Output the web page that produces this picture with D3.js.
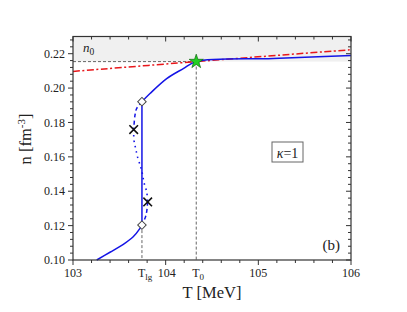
<!DOCTYPE html>
<html>
<head>
<meta charset="utf-8">
<script src="https://cdn.jsdelivr.net/npm/d3@7"></script>
<style>
body { margin: 0; background: #fff; }
text { font-family: "Liberation Serif", "DejaVu Serif", serif; fill: #222; }
</style>
</head>
<body>
<div id="main"></div>
<script>
// values
var n0 = 0.2154, T0 = 104.33, Tlg = 103.744;
var xMajor = [103, 104, 105, 106];
var yMajor = [0.10, 0.12, 0.14, 0.16, 0.18, 0.20, 0.22];

// stable branches (solid blue)
var lowBranchT = [103.256, 103.399, 103.543, 103.650, 103.723, 103.744];
var lowBranchN = [0.1000, 0.1045, 0.1091, 0.1135, 0.1184, 0.1203];
var highBranchT = [103.744, 103.831, 104.011, 104.190, 104.330, 105.160, 106.0];
var highBranchN = [0.1921, 0.1968, 0.2055, 0.2113, 0.2154, 0.2172, 0.2190];
var coexistN = [0.1203, 0.1921];

// metastable (dashed) and unstable (dotted) parts of the loop
var metaHighT = [103.744, 103.687, 103.669, 103.655];
var metaHighN = [0.1921, 0.1881, 0.1842, 0.1759];
var unstableT = [103.655, 103.658, 103.676, 103.696, 103.730, 103.748, 103.769, 103.795, 103.806];
var unstableN = [0.1759, 0.1697, 0.1649, 0.1600, 0.1542, 0.1503, 0.1445, 0.1397, 0.1338];
var metaLowT = [103.806, 103.788, 103.744];
var metaLowN = [0.1338, 0.1261, 0.1203];

// spinodal points
var spinT = [103.655, 103.806];
var spinN = [0.1759, 0.1338];

// red dash-dot curve
var redT = [103.0, 104.33, 106.0];
var redN = [0.2097, 0.2154, 0.2223];

var zip = function(a, b) { return a.map(function(v, i) { return [v, b[i]]; }); };

var W = 407, H = 312;
var m = {left: 73, right: 56, top: 36.5, bottom: 52};
var w = W - m.left - m.right, h = H - m.top - m.bottom;

var x = d3.scaleLinear().domain([103, 106]).range([0, w]);
var y = d3.scaleLinear().domain([0.10, 0.23]).range([h, 0]);

var svg = d3.select('#main').append('svg')
    .attr('width', W).attr('height', H);
var g = svg.append('g').attr('transform', 'translate(' + m.left + ',' + m.top + ')');

// grey band above n0
g.append('rect')
    .attr('x', 0).attr('y', y(0.23))
    .attr('width', w).attr('height', y(n0) - y(0.23))
    .style('fill', '#f0f0f0');

var dashStyle = function(sel) {
    return sel.style('stroke', '#555').style('stroke-width', 0.9)
        .style('stroke-dasharray', '3,2').style('fill', 'none');
};
// guide lines
dashStyle(g.append('line')
    .attr('x1', 0).attr('x2', x(T0)).attr('y1', y(n0)).attr('y2', y(n0)));
dashStyle(g.append('line')
    .attr('x1', x(T0)).attr('x2', x(T0)).attr('y1', y(n0)).attr('y2', h));
dashStyle(g.append('line')
    .attr('x1', x(Tlg)).attr('x2', x(Tlg)).attr('y1', y(coexistN[0])).attr('y2', h));

var line = d3.line()
    .x(function(d) { return x(d[0]); })
    .y(function(d) { return y(d[1]); })
    .curve(d3.curveCatmullRom);

g.append('path').datum(zip(redT, redN))
    .attr('d', line)
    .style('fill', 'none').style('stroke', '#e8171b').style('stroke-width', 1.5)
    .style('stroke-dasharray', '7,2.5,2,2.5');

var blue = '#1414e6';
[zip(lowBranchT, lowBranchN), zip(highBranchT, highBranchN)].forEach(function(d) {
    g.append('path').datum(d).attr('d', line)
        .style('fill', 'none').style('stroke', blue).style('stroke-width', 1.5);
});
g.append('line')
    .attr('x1', x(Tlg)).attr('x2', x(Tlg))
    .attr('y1', y(coexistN[0])).attr('y2', y(coexistN[1]))
    .style('stroke', blue).style('stroke-width', 1.5);

[zip(metaHighT, metaHighN), zip(metaLowT, metaLowN)].forEach(function(d) {
    g.append('path').datum(d).attr('d', line)
        .style('fill', 'none').style('stroke', blue).style('stroke-width', 1.5)
        .style('stroke-dasharray', '4,3');
});
g.append('path').datum(zip(unstableT, unstableN)).attr('d', line)
    .style('fill', 'none').style('stroke', blue).style('stroke-width', 1.6)
    .style('stroke-dasharray', '1.5,4');

// spinodal crosses
g.selectAll('.spin').data(zip(spinT, spinN))
    .enter().append('path')
    .attr('class', 'spin')
    .attr('transform', function(d) { return 'translate(' + x(d[0]) + ',' + y(d[1]) + ')'; })
    .attr('d', d3.symbol().type(d3.symbolTimes).size(50))
    .style('fill', 'none').style('stroke', '#111').style('stroke-width', 1.6);

// coexistence diamonds
g.selectAll('.dia').data(coexistN)
    .enter().append('path')
    .attr('class', 'dia')
    .attr('transform', function(d) { return 'translate(' + x(Tlg) + ',' + y(d) + ') rotate(45)'; })
    .attr('d', d3.symbol().type(d3.symbolSquare).size(36))
    .style('fill', '#fff').style('stroke', '#444').style('stroke-width', 1);

// star at (T0, n0)
g.append('path')
    .attr('transform', 'translate(' + x(T0) + ',' + y(n0) + ')')
    .attr('d', d3.symbol().type(d3.symbolStar).size(62))
    .style('fill', '#22d022').style('stroke', '#116611').style('stroke-width', 0.7);

// axes
var xMinor = d3.range(103, 106.001, 0.2);
var yMinor = d3.range(0.10, 0.2301, 0.004);
var ax = g.append('g').style('stroke', '#333').style('stroke-width', 1);
var tick = function(x1, y1, x2, y2) {
    ax.append('line').attr('x1', x1).attr('y1', y1).attr('x2', x2).attr('y2', y2);
};
xMinor.forEach(function(v) {
    var major = xMajor.some(function(t) { return Math.abs(t - v) < 1e-6; });
    var len = major ? 5 : 3;
    tick(x(v), h, x(v), h + len);
    tick(x(v), 0, x(v), len);
});
yMinor.forEach(function(v) {
    var major = yMajor.some(function(t) { return Math.abs(t - v) < 1e-6; });
    var len = major ? 5 : 3;
    tick(0, y(v), -len, y(v));
    tick(w, y(v), w - len, y(v));
});
ax.append('rect').attr('x', 0).attr('y', 0).attr('width', w).attr('height', h)
    .style('fill', 'none').style('stroke-width', 1.2);

g.selectAll('.xl').data(xMajor).enter().append('text')
    .attr('class', 'xl')
    .attr('x', function(d) { return x(d) + (d === 104 ? 1 : 0); })
    .attr('y', h + 17)
    .attr('text-anchor', 'middle')
    .style('font-size', '12px')
    .text(function(d) { return d; });

g.selectAll('.yl').data(yMajor).enter().append('text')
    .attr('class', 'yl')
    .attr('x', -8).attr('y', function(d) { return y(d); })
    .attr('dy', '0.35em')
    .attr('text-anchor', 'end')
    .style('font-size', '12px')
    .text(function(d) { return d.toFixed(2); });

// T_lg and T_0 labels under the guide lines
var tlg = g.append('text').attr('x', x(Tlg) - 4).attr('y', h + 17).style('font-size', '12px');
tlg.append('tspan').text('T');
tlg.append('tspan').attr('dy', 3).style('font-size', '9px').text('lg');
var t0 = g.append('text').attr('x', x(T0) - 4).attr('y', h + 17).style('font-size', '12px');
t0.append('tspan').text('T');
t0.append('tspan').attr('dy', 3).style('font-size', '9px').text('0');

// n0 label
var nl = g.append('text').attr('x', 10).attr('y', 15).style('font-size', '13px');
nl.append('tspan').style('font-style', 'italic').text('n');
nl.append('tspan').attr('dy', 3).style('font-size', '9.5px').text('0');

// axis titles
svg.append('text')
    .attr('x', 212).attr('y', 298)
    .attr('text-anchor', 'middle')
    .style('font-size', '16.5px')
    .text('T [MeV]');
var yt = svg.append('text')
    .attr('transform', 'translate(31,139) rotate(-90)')
    .attr('text-anchor', 'middle')
    .style('font-size', '16.5px');
yt.append('tspan').text('n [fm');
yt.append('tspan').attr('dy', -6).style('font-size', '11px').text('-3');
yt.append('tspan').attr('dy', 6).text(']');

// kappa box
var kx = 272, ky = 142;
g.append('rect')
    .attr('x', kx - m.left).attr('y', ky - m.top).attr('width', 31).attr('height', 20)
    .style('fill', '#fff').style('stroke', '#666').style('stroke-width', 1);
var kt = g.append('text')
    .attr('x', kx - m.left + 15.5).attr('y', ky - m.top + 15.5)
    .attr('text-anchor', 'middle').style('font-size', '14px');
kt.append('tspan').style('font-style', 'italic').text('\u03ba');
kt.append('tspan').text('=1');

g.append('text')
    .attr('x', w - 11).attr('y', h - 10)
    .attr('text-anchor', 'end')
    .style('font-size', '15px')
    .text('(b)');
</script>
</body>
</html>
